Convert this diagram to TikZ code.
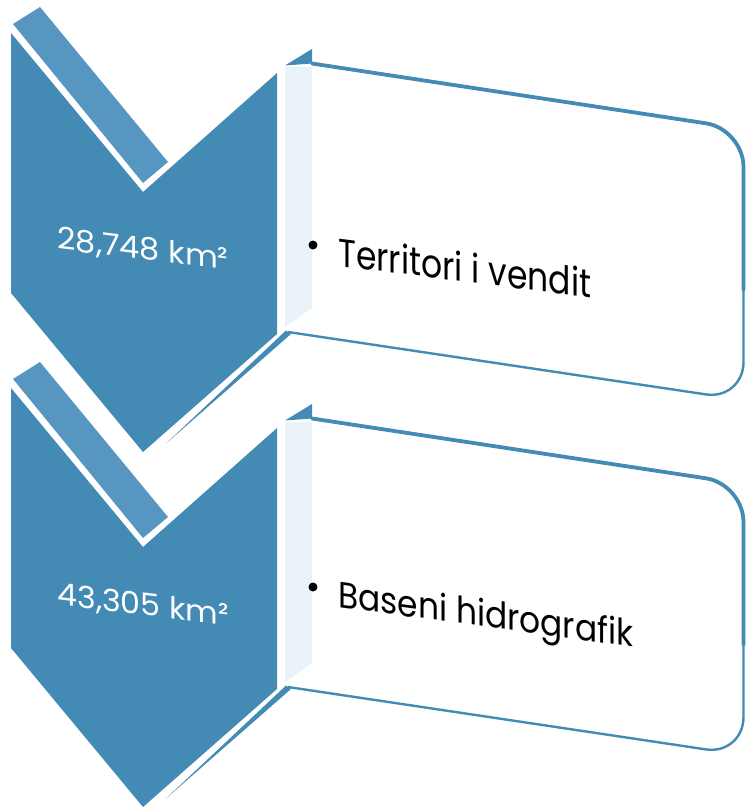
\documentclass[tikz,border=0pt]{standalone}
\usepackage{fontspec}
\setmainfont{Poppins}
\definecolor{cblue}{HTML}{438BB4}
\definecolor{cside}{HTML}{5796C1}
\definecolor{cpanel}{HTML}{EAF3F8}
\tikzset{
  front/.style={fill=cblue, draw=none},
  sideface/.style={fill=cside, draw=none},
  panel/.style={fill=cpanel, draw=none},
  boxline/.style={draw=cblue, line width=2.4pt, rounded corners=38pt, line join=round},
  boxtop/.style={draw=cblue, line width=3.8pt, rounded corners=38pt, line cap=round},
  chevtext/.style={text=white, inner sep=0pt, yslant=-0.12},
  itemtext/.style={text=black, inner sep=0pt, anchor=base west},
  bulletdot/.style={circle, fill=black, inner sep=0pt, minimum size=9pt}
}
\begin{document}
\begin{tikzpicture}[x=1pt, y=-1pt]
\useasboundingbox[fill=white] (0,0) rectangle (746,807);
\foreach \dy in {0, 355} {
  \begin{scope}[yshift=-\dy pt]
    % side face (3D extrusion) of the chevron
    \fill[sideface] (13,24) -- (40,7) -- (168,162) -- (143,183) -- cycle;
    % front face of the chevron
    \fill[front] (11,33) -- (143,192) -- (277,73) -- (277,334) -- (143,452) -- (11,293) -- cycle;
    % thin sliver along the lower right edge
    \fill[cblue] (286,330.5) -- (291,334) -- (166,443.5) -- cycle;
    % left face of the text box
    \fill[panel] (285,67) -- (312,67) -- (312,308) -- (285,327) -- cycle;
    \fill[cblue] (285,65.5) -- (312,49) -- (312,63.5) -- cycle;
    % text box outline
    \draw[boxline] (312,63.5) -- (743.5,129) -- (743.5,400) -- (288,332);
    \draw[boxtop] (312,63.5) -- (743.5,129) -- (743.5,290);
  \end{scope}
}
\node[chevtext] (v1) at (143,250) {\resizebox{171pt}{22.5pt}{28,748 km²}};
\node[chevtext] (v2) at (143,606) {\resizebox{171pt}{22.5pt}{43,305 km²}};
\node[bulletdot] (b1) at (313,245) {};
\node[bulletdot] (b2) at (313,587) {};
\node[itemtext, yslant=-0.125] (t1) at (338,266) {\resizebox{253pt}{30pt}{Territori i vendit}};
\node[itemtext, yslant=-0.135] (t2) at (338,607) {\resizebox{295pt}{28pt}{Baseni hidrografik}};
\end{tikzpicture}
\end{document}
